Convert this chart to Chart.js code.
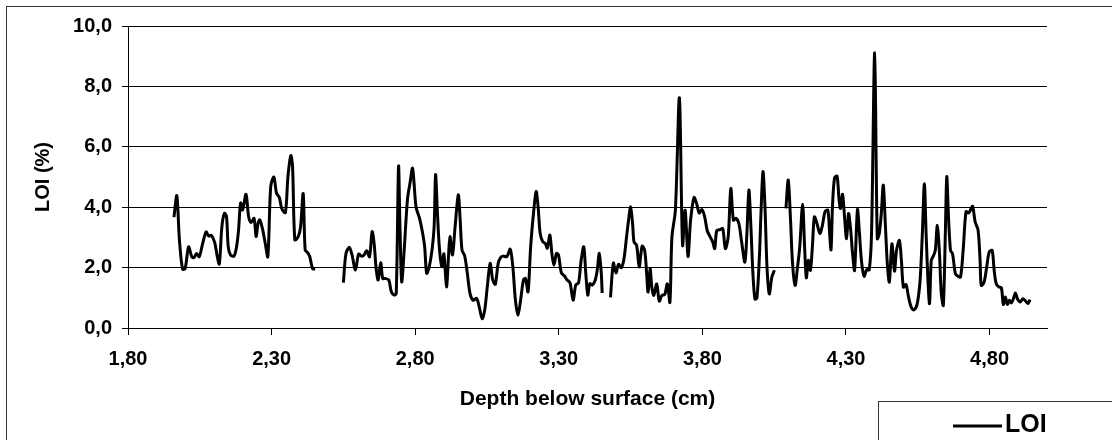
<!DOCTYPE html>
<html>
<head>
<meta charset="utf-8">
<script src="https://cdn.jsdelivr.net/npm/chart.js@4"></script>
<style>
  body { margin: 0; background: #fff; }
  #wrap { width: 1112px; height: 440px; }
</style>
</head>
<body>
<div id="wrap"><canvas id="loi-chart" width="1112" height="440"></canvas></div>
<script>
// depth below surface (cm) and LOI (%), one array pair per unbroken run
const seg1Depth = [1.960,1.970,1.979,1.990,1.999,2.011,2.022,2.030,2.039,2.048,2.060,2.072,2.081,2.090,2.102,2.111,2.118,2.127,2.136,2.143,2.149,2.157,2.169,2.178,2.185,2.192,2.199,2.211,2.220,2.229,2.239,2.246,2.253,2.259,2.269,2.278,2.287,2.297,2.308,2.317,2.327,2.336,2.348,2.357,2.367,2.373,2.381,2.393,2.401,2.410,2.417,2.426,2.433,2.443,2.452];
const seg1Loi = [3.67,4.38,2.92,1.95,1.97,2.69,2.36,2.33,2.47,2.36,2.80,3.18,3.05,3.07,2.83,2.36,2.12,3.36,3.80,3.69,2.69,2.42,2.38,2.69,3.25,4.14,3.91,4.43,3.69,3.49,3.63,3.03,3.47,3.58,3.25,2.80,2.36,4.69,5.00,4.47,4.32,3.94,3.82,5.02,5.71,5.35,2.92,3.03,3.36,4.45,2.58,2.49,2.36,1.96,1.96];

const seg2Depth = [2.550,2.559,2.571,2.580,2.592,2.603,2.613,2.622,2.631,2.641,2.650,2.657,2.664,2.671,2.680,2.687,2.696,2.708,2.717,2.727,2.734,2.742,2.747,2.753,2.761,2.773,2.782,2.791,2.803,2.815,2.826,2.833,2.840,2.849,2.859,2.866,2.871,2.877,2.884,2.893,2.900,2.909,2.916,2.921,2.930,2.939,2.950,2.956,2.963,2.972,2.981,2.991,3.002,3.014,3.023,3.033,3.042,3.051,3.061,3.070,3.079,3.089,3.098,3.107,3.119,3.131,3.140,3.149,3.158,3.167,3.177,3.184,3.193,3.202,3.212,3.221,3.228,3.235,3.244,3.253,3.260,3.269,3.276,3.283,3.292,3.299,3.309,3.320,3.329,3.339,3.350,3.359,3.369,3.378,3.387,3.394,3.401,3.408,3.417,3.427,3.434,3.441,3.448,3.451];
const seg2Loi = [1.50,2.47,2.67,2.42,1.92,2.45,2.38,2.42,2.56,2.36,3.19,2.80,1.97,1.59,2.16,1.64,1.64,1.59,1.20,1.09,1.14,5.35,3.36,1.53,2.47,4.25,4.80,5.29,4.00,3.64,3.14,2.69,1.81,2.03,2.61,3.36,5.08,3.91,2.69,2.03,2.45,1.36,2.36,3.03,2.42,3.36,4.41,3.69,2.58,2.40,1.85,1.14,0.92,0.98,0.70,0.31,0.59,1.36,2.14,1.59,1.45,2.14,2.34,2.38,2.36,2.61,2.03,0.92,0.42,0.92,1.59,1.64,1.20,2.69,3.80,4.52,4.02,3.14,2.86,2.80,2.64,3.08,2.47,2.08,2.47,2.42,1.83,1.72,1.59,1.50,0.92,1.42,1.50,2.25,2.69,1.81,1.09,1.47,1.42,1.59,1.92,2.47,1.81,1.16];

const seg3Depth = [3.480,3.490,3.499,3.508,3.518,3.527,3.536,3.543,3.550,3.557,3.562,3.571,3.580,3.590,3.599,3.606,3.611,3.618,3.624,3.631,3.641,3.650,3.659,3.669,3.678,3.687,3.694,3.706,3.720,3.731,3.740,3.750,3.759,3.771,3.780,3.789,3.799,3.808,3.817,3.827,3.836,3.843,3.850,3.862,3.871,3.880,3.890,3.899,3.908,3.917,3.927,3.936,3.948,3.955,3.962,3.969,3.976,3.983,3.990,3.999,4.004,4.011,4.018,4.025,4.033,4.042,4.051];
const seg3Loi = [1.01,2.15,1.82,2.11,2.00,2.29,3.02,3.57,4.01,3.46,2.85,2.74,2.02,2.71,2.57,1.80,1.19,1.96,1.35,1.08,1.46,0.89,1.08,1.11,1.46,0.85,3.02,3.90,7.62,2.74,3.90,2.37,3.57,4.32,4.12,3.81,3.92,3.68,3.22,3.02,2.85,2.63,3.22,3.26,3.29,2.63,3.02,4.62,3.57,3.63,3.46,2.90,2.18,3.13,4.57,3.35,1.80,0.96,1.00,2.46,3.79,5.18,4.01,2.02,1.13,1.69,1.91];

const seg4Depth = [4.091,4.099,4.107,4.114,4.123,4.130,4.139,4.149,4.156,4.162,4.169,4.176,4.183,4.190,4.199,4.209,4.218,4.227,4.237,4.243,4.248,4.253,4.260,4.269,4.276,4.281,4.288,4.295,4.302,4.309,4.316,4.323,4.330,4.340,4.347,4.354,4.363,4.372,4.381,4.389,4.400,4.409,4.416,4.423,4.430,4.437,4.444,4.451,4.460,4.469,4.476,4.486,4.493,4.500,4.509,4.518,4.528,4.537,4.548,4.558,4.566,4.573,4.579,4.586,4.591,4.597,4.604,4.611,4.618,4.625,4.632,4.639,4.646,4.651,4.657,4.664,4.671,4.681,4.690,4.699,4.708,4.718,4.727,4.734,4.741,4.750,4.760,4.767,4.771,4.781,4.790,4.799,4.809,4.816,4.823,4.832,4.841,4.848,4.855,4.862,4.869,4.876,4.883,4.890,4.897,4.907,4.916,4.925,4.934,4.941];
const seg4Loi = [3.96,4.90,3.57,2.13,1.41,1.91,2.68,4.10,2.68,1.66,2.24,1.91,2.68,3.68,3.46,3.13,3.40,3.85,3.90,3.13,2.59,4.01,4.96,5.03,4.24,3.96,4.43,3.68,2.96,3.79,3.29,2.46,1.91,3.92,3.13,2.22,1.71,1.93,1.93,3.13,9.11,2.96,3.13,3.79,4.73,3.46,2.13,1.52,2.79,1.88,2.57,2.90,2.24,1.35,1.44,1.02,0.67,0.60,0.80,1.57,3.13,4.78,3.13,1.47,0.81,2.24,2.38,2.57,3.40,2.57,1.14,0.75,3.13,5.01,3.68,2.57,2.46,1.80,1.71,1.69,2.57,3.85,3.81,3.92,4.03,3.51,3.24,2.24,1.41,1.52,2.02,2.52,2.57,1.91,1.47,1.36,1.34,0.78,1.03,0.78,0.92,0.83,0.97,1.16,0.97,0.86,0.97,0.90,0.81,0.94];

const xTicks = [1.8, 2.3, 2.8, 3.3, 3.8, 4.3, 4.8];
const yTicks = [0, 2, 4, 6, 8, 10];

// join the runs, with a null point between them so the line breaks
const segments = [[seg1Depth, seg1Loi], [seg2Depth, seg2Loi], [seg3Depth, seg3Loi], [seg4Depth, seg4Loi]];
let points = [];
segments.forEach((seg, i) => {
  if (i > 0) {
    const prev = segments[i - 1][0];
    points.push({ x: (prev[prev.length - 1] + seg[0][0]) / 2, y: null });
  }
  seg[0].forEach((d, j) => points.push({ x: d, y: seg[1][j] }));
});

Chart.defaults.font.family = "'Liberation Sans', Arial, sans-serif";
Chart.defaults.color = "#000";

const frameAndLegend = {
  id: "frameAndLegend",
  afterDraw(chart) {
    const ctx = chart.ctx;
    ctx.save();
    // outer chart frame, runs off the right and bottom edges
    ctx.strokeStyle = "#333";
    ctx.lineWidth = 1;
    ctx.strokeRect(6.5, 6.5, 1200, 500);
    // legend box
    ctx.strokeStyle = "#333";
    ctx.strokeRect(878.5, 401.5, 300, 100);
    ctx.strokeStyle = "#000";
    ctx.lineWidth = 3;
    ctx.beginPath();
    ctx.moveTo(953, 426);
    ctx.lineTo(1002, 426);
    ctx.stroke();
    ctx.fillStyle = "#000";
    ctx.font = "bold 25px 'Liberation Sans', Arial, sans-serif";
    ctx.textBaseline = "alphabetic";
    ctx.textAlign = "left";
    ctx.fillText("LOI", 1005, 432);
    ctx.restore();
  },
};

const ctx = document.getElementById("loi-chart").getContext("2d");
const myChart = new Chart(ctx, {
  type: "line",
  data: {
    datasets: [
      {
        label: "LOI",
        data: points,
        borderColor: "#000",
        borderWidth: 3,
        pointRadius: 0,
        tension: 0.3,
        spanGaps: false,
        fill: false,
      },
    ],
  },
  options: {
    responsive: false,
    animation: false,
    layout: { padding: { left: 0, right: 65, top: 26, bottom: 0 } },
    plugins: {
      legend: { display: false },
      tooltip: { enabled: false },
    },
    scales: {
      x: {
        type: "linear",
        min: 1.8,
        max: 5.0,
        afterBuildTicks: (scale) => {
          scale.ticks = xTicks.map((v) => ({ value: v }));
        },
        afterFit: (scale) => {
          scale.height = 112;
        },
        ticks: {
          autoSkip: false,
          maxRotation: 0,
          padding: 12,
          font: { size: 20, weight: "bold" },
          callback: (v) => v.toFixed(2).replace(".", ","),
        },
        grid: { drawOnChartArea: false, color: "#000", tickLength: 7 },
        border: { display: true, color: "#000", width: 1 },
        title: {
          display: true,
          text: "Depth below surface (cm)",
          font: { size: 21, weight: "bold" },
          padding: { top: 0, bottom: 28 },
        },
      },
      y: {
        min: 0,
        max: 10,
        afterBuildTicks: (scale) => {
          scale.ticks = yTicks.map((v) => ({ value: v }));
        },
        afterFit: (scale) => {
          scale.width = 128;
        },
        ticks: {
          padding: 10,
          font: { size: 20, weight: "bold" },
          callback: (v) => v.toFixed(1).replace(".", ","),
        },
        grid: { color: "#000", lineWidth: 1, tickLength: 6 },
        border: { display: true, color: "#000", width: 1 },
        title: {
          display: true,
          text: "LOI (%)",
          font: { size: 20, weight: "bold" },
          padding: { top: 31, bottom: 0 },
        },
      },
    },
  },
  plugins: [frameAndLegend],
});
</script>
</body>
</html>
